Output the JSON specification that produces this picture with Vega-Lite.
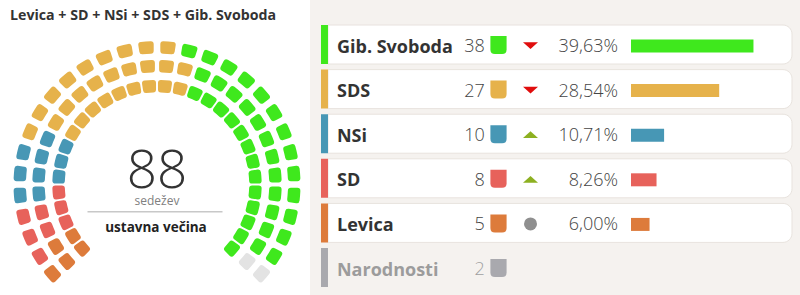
{
  "$schema": "https://vega.github.io/schema/vega-lite/v6.json",
  "padding": 0,
  "background": "#ffffff",
  "spacing": 0,
  "bounds": "full",
  "config": {
    "font": "Open Sans",
    "view": {"stroke": null},
    "locale": {"number": {"decimal": ",", "thousands": ".", "grouping": [3], "currency": ["", " €"]}}
  },
  "datasets": {
    "parties": [
      {"party": "Gib. Svoboda", "seats": 38, "share": 0.3963, "trend": "down"},
      {"party": "SDS", "seats": 27, "share": 0.2854, "trend": "down"},
      {"party": "NSi", "seats": 10, "share": 0.1071, "trend": "up"},
      {"party": "SD", "seats": 8, "share": 0.0826, "trend": "up"},
      {"party": "Levica", "seats": 5, "share": 0.06, "trend": "same"},
      {"party": "Narodnosti", "seats": 2, "share": null, "trend": null}
    ],
    "seats": [
      {"ring": 3, "party": "Levica"},
      {"ring": 3, "party": "SD"}, {"ring": 3, "party": "SD"}, {"ring": 3, "party": "SD"},
      {"ring": 3, "party": "NSi"}, {"ring": 3, "party": "NSi"}, {"ring": 3, "party": "NSi"},
      {"ring": 3, "party": "SDS"}, {"ring": 3, "party": "SDS"}, {"ring": 3, "party": "SDS"}, {"ring": 3, "party": "SDS"}, {"ring": 3, "party": "SDS"}, {"ring": 3, "party": "SDS"}, {"ring": 3, "party": "SDS"}, {"ring": 3, "party": "SDS"}, {"ring": 3, "party": "SDS"},
      {"ring": 3, "party": "Gib. Svoboda"}, {"ring": 3, "party": "Gib. Svoboda"}, {"ring": 3, "party": "Gib. Svoboda"}, {"ring": 3, "party": "Gib. Svoboda"}, {"ring": 3, "party": "Gib. Svoboda"}, {"ring": 3, "party": "Gib. Svoboda"}, {"ring": 3, "party": "Gib. Svoboda"}, {"ring": 3, "party": "Gib. Svoboda"}, {"ring": 3, "party": "Gib. Svoboda"}, {"ring": 3, "party": "Gib. Svoboda"}, {"ring": 3, "party": "Gib. Svoboda"}, {"ring": 3, "party": "Gib. Svoboda"}, {"ring": 3, "party": "Gib. Svoboda"},
      {"ring": 3, "party": "Narodnosti"},
      {"ring": 2, "party": "Levica"}, {"ring": 2, "party": "Levica"},
      {"ring": 2, "party": "SD"}, {"ring": 2, "party": "SD"},
      {"ring": 2, "party": "NSi"}, {"ring": 2, "party": "NSi"}, {"ring": 2, "party": "NSi"}, {"ring": 2, "party": "NSi"},
      {"ring": 2, "party": "SDS"}, {"ring": 2, "party": "SDS"}, {"ring": 2, "party": "SDS"}, {"ring": 2, "party": "SDS"}, {"ring": 2, "party": "SDS"}, {"ring": 2, "party": "SDS"}, {"ring": 2, "party": "SDS"}, {"ring": 2, "party": "SDS"}, {"ring": 2, "party": "SDS"},
      {"ring": 2, "party": "Gib. Svoboda"}, {"ring": 2, "party": "Gib. Svoboda"}, {"ring": 2, "party": "Gib. Svoboda"}, {"ring": 2, "party": "Gib. Svoboda"}, {"ring": 2, "party": "Gib. Svoboda"}, {"ring": 2, "party": "Gib. Svoboda"}, {"ring": 2, "party": "Gib. Svoboda"}, {"ring": 2, "party": "Gib. Svoboda"}, {"ring": 2, "party": "Gib. Svoboda"}, {"ring": 2, "party": "Gib. Svoboda"}, {"ring": 2, "party": "Gib. Svoboda"}, {"ring": 2, "party": "Gib. Svoboda"},
      {"ring": 2, "party": "Narodnosti"},
      {"ring": 1, "party": "Levica"}, {"ring": 1, "party": "Levica"},
      {"ring": 1, "party": "SD"}, {"ring": 1, "party": "SD"}, {"ring": 1, "party": "SD"},
      {"ring": 1, "party": "NSi"}, {"ring": 1, "party": "NSi"}, {"ring": 1, "party": "NSi"},
      {"ring": 1, "party": "SDS"}, {"ring": 1, "party": "SDS"}, {"ring": 1, "party": "SDS"}, {"ring": 1, "party": "SDS"}, {"ring": 1, "party": "SDS"}, {"ring": 1, "party": "SDS"}, {"ring": 1, "party": "SDS"}, {"ring": 1, "party": "SDS"}, {"ring": 1, "party": "SDS"},
      {"ring": 1, "party": "Gib. Svoboda"}, {"ring": 1, "party": "Gib. Svoboda"}, {"ring": 1, "party": "Gib. Svoboda"}, {"ring": 1, "party": "Gib. Svoboda"}, {"ring": 1, "party": "Gib. Svoboda"}, {"ring": 1, "party": "Gib. Svoboda"}, {"ring": 1, "party": "Gib. Svoboda"}, {"ring": 1, "party": "Gib. Svoboda"}, {"ring": 1, "party": "Gib. Svoboda"}, {"ring": 1, "party": "Gib. Svoboda"}, {"ring": 1, "party": "Gib. Svoboda"}, {"ring": 1, "party": "Gib. Svoboda"}, {"ring": 1, "party": "Gib. Svoboda"}
    ]
  },
  "resolve": {"scale": {"color": "independent"}},
  "hconcat": [
    {
      "width": 310,
      "height": 295,
      "title": {"text": "Levica + SD + NSi + SDS + Gib. Svoboda", "anchor": "start", "frame": "group", "dx": 10, "fontSize": 14.2, "fontWeight": "bold", "color": "#333333", "offset": -23, "font": "Open Sans"},
      "layer": [
        {
          "data": {"name": "seats"},
          "transform": [{"window": [{"op": "row_number", "as": "seat"}]}, {"filter": "datum.ring === 3"}],
          "mark": {"type": "arc", "outerRadius": 143.5, "innerRadius": 131, "padAngle": 0.034, "cornerRadius": 3, "xOffset": 2, "yOffset": 37},
          "encoding": {
            "theta": {"aggregate": "count", "type": "quantitative", "stack": true, "scale": {"domain": [0, 30], "range": [-2.35619, 2.35619]}},
            "color": {"field": "party", "type": "nominal", "legend": null, "scale": {"domain": ["Gib. Svoboda", "SDS", "NSi", "SD", "Levica", "Narodnosti"], "range": ["#3fe81d", "#e6b24b", "#4797b5", "#e7625b", "#dd7b3b", "#e3e3e3"]}},
            "detail": {"field": "seat", "type": "quantitative"},
            "order": {"field": "seat", "type": "quantitative"}
          }
        },
        {
          "data": {"name": "seats"},
          "transform": [{"window": [{"op": "row_number", "as": "seat"}]}, {"filter": "datum.ring === 2"}],
          "mark": {"type": "arc", "outerRadius": 124.7, "innerRadius": 112.2, "padAngle": 0.025, "cornerRadius": 3, "xOffset": 2, "yOffset": 37},
          "encoding": {
            "theta": {"aggregate": "count", "type": "quantitative", "stack": true, "scale": {"domain": [0, 30], "range": [-2.35619, 2.35619]}},
            "color": {"field": "party", "type": "nominal", "legend": null},
            "detail": {"field": "seat", "type": "quantitative"},
            "order": {"field": "seat", "type": "quantitative"}
          }
        },
        {
          "data": {"name": "seats"},
          "transform": [{"window": [{"op": "row_number", "as": "seat"}]}, {"filter": "datum.ring === 1"}],
          "mark": {"type": "arc", "outerRadius": 104.7, "innerRadius": 92.2, "padAngle": 0.014, "cornerRadius": 3, "xOffset": 2, "yOffset": 37},
          "encoding": {
            "theta": {"aggregate": "count", "type": "quantitative", "stack": true, "scale": {"domain": [0, 30], "range": [-2.35619, 2.35619]}},
            "color": {"field": "party", "type": "nominal", "legend": null},
            "detail": {"field": "seat", "type": "quantitative"},
            "order": {"field": "seat", "type": "quantitative"}
          }
        },
        {
          "data": {"name": "parties"},
          "transform": [{"filter": "datum.party !== 'Narodnosti'"}, {"aggregate": [{"op": "sum", "field": "seats", "as": "total"}]}],
          "layer": [
            {"mark": {"type": "text", "fontSize": 53, "fontWeight": 300, "color": "#333333", "baseline": "alphabetic", "align": "center", "dx": 2, "dy": 40.5}, "encoding": {"text": {"field": "total", "type": "quantitative"}}},
            {"mark": {"type": "text", "text": "sedežev", "fontSize": 12, "color": "#808080", "baseline": "alphabetic", "align": "center", "dx": 2, "dy": 57.5}},
            {"mark": {"type": "tick", "orient": "horizontal", "size": 135, "thickness": 1.5, "color": "#c8c8c8", "opacity": 1, "xOffset": 0, "yOffset": 64.2}, "encoding": {}},
            {"mark": {"type": "text", "text": "ustavna večina", "fontSize": 13.5, "fontWeight": "bold", "color": "#222222", "baseline": "alphabetic", "align": "center", "dx": 1, "dy": 84}}
          ]
        }
      ]
    },
    {
      "width": 490,
      "height": 295,
      "view": {"fill": "#f5f2ef", "stroke": null},
      "data": {"name": "parties"},
      "encoding": {
        "y": {"field": "party", "type": "nominal", "axis": null, "scale": {"domain": ["Gib. Svoboda", "SDS", "NSi", "SD", "Levica", "Narodnosti"], "paddingInner": 0.126, "paddingOuter": 0.37, "align": 0.758}}
      },
      "layer": [
        {
          "transform": [{"filter": "datum.share != null"}],
          "mark": {"type": "rect", "fill": "#ffffff", "stroke": "#e8e3de", "strokeWidth": 1, "cornerRadiusTopRight": 9, "cornerRadiusBottomRight": 9},
          "encoding": {
            "x": {"datum": -0.9806, "type": "quantitative", "axis": null, "scale": {"domain": [-1.0388, 0.5469], "nice": false, "zero": false}},
            "x2": {"datum": 0.521}
          }
        },
        {
          "mark": {"type": "rect"},
          "encoding": {
            "x": {"datum": -1.0032, "type": "quantitative"},
            "x2": {"datum": -0.9806},
            "color": {"field": "party", "type": "nominal", "legend": null, "scale": {"domain": ["Gib. Svoboda", "SDS", "NSi", "SD", "Levica", "Narodnosti"], "range": ["#3fe81d", "#e6b24b", "#4797b5", "#e7625b", "#dd7b3b", "#a9a9ae"]}}
          }
        },
        {
          "mark": {"type": "text", "align": "left", "baseline": "alphabetic", "dy": 8, "fontSize": 18, "fontWeight": "bold"},
          "encoding": {
            "x": {"datum": -0.9515, "type": "quantitative"},
            "text": {"field": "party", "type": "nominal"},
            "color": {"condition": {"test": "datum.party === 'Narodnosti'", "value": "#9c9c9c"}, "value": "#333333"}
          }
        },
        {
          "mark": {"type": "text", "align": "right", "baseline": "alphabetic", "dy": 7.5, "fontSize": 18, "fontWeight": 300},
          "encoding": {
            "x": {"datum": -0.473, "type": "quantitative"},
            "text": {"field": "seats", "type": "quantitative"},
            "color": {"condition": {"test": "datum.party === 'Narodnosti'", "value": "#a0a0a0"}, "value": "#444444"}
          }
        },
        {
          "mark": {"type": "point", "filled": true, "opacity": 1, "strokeWidth": 0, "size": 324, "yOffset": 0.5, "shape": "M-0.9,-1L0.9,-1L0.9,0.5Q0.9,1 0.4,1L-0.4,1Q-0.9,1 -0.9,0.5Z"},
          "encoding": {
            "x": {"datum": -0.4288, "type": "quantitative"},
            "color": {"field": "party", "type": "nominal", "legend": null}
          }
        },
        {
          "transform": [{"filter": "datum.trend != null"}],
          "mark": {"type": "point", "filled": true, "opacity": 1, "strokeWidth": 0, "yOffset": 1},
          "encoding": {
            "x": {"datum": -0.3252, "type": "quantitative"},
            "shape": {"field": "trend", "type": "nominal", "legend": null, "scale": {"domain": ["down", "up", "same"], "range": ["M-1,-0.45L1,-0.45L0,0.45Z", "M-1,0.45L1,0.45L0,-0.45Z", "circle"]}},
            "fill": {"field": "trend", "type": "nominal", "legend": null, "scale": {"domain": ["down", "up", "same"], "range": ["#e00d0d", "#8db021", "#8f8f8f"]}},
            "size": {"condition": {"test": "datum.trend === 'same'", "value": 169}, "value": 225}
          }
        },
        {
          "transform": [{"filter": "datum.share != null"}],
          "mark": {"type": "text", "align": "right", "baseline": "alphabetic", "dy": 7.5, "fontSize": 18, "fontWeight": 300, "color": "#444444"},
          "encoding": {
            "x": {"datum": -0.0421, "type": "quantitative"},
            "text": {"field": "share", "type": "quantitative", "format": ".2%"}
          }
        },
        {
          "transform": [{"filter": "datum.share != null"}],
          "mark": {"type": "bar", "height": 13, "yOffset": 1.5},
          "encoding": {
            "x": {"field": "share", "type": "quantitative"},
            "x2": {"datum": 0},
            "color": {"field": "party", "type": "nominal", "legend": null}
          }
        }
      ]
    }
  ]
}
